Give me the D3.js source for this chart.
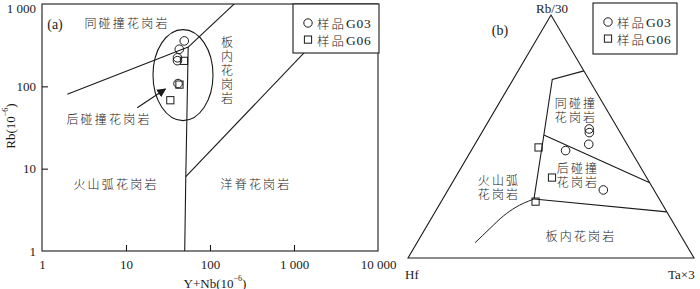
<!DOCTYPE html>
<html><head><meta charset="utf-8">
<script src="https://cdn.jsdelivr.net/npm/d3@7"></script>
<style>
html,body{margin:0;padding:0;background:#fff;}
svg text{font-family:"Liberation Serif","Times New Roman",serif;fill:#1a1a1a;}
svg text.cjk, svg tspan.cjk{font-family:"Noto Sans CJK SC",sans-serif;font-weight:300;}
</style>
</head><body>
<svg id="chart" width="700" height="289"></svg>
<script>
// ---------- Panel (a) data: Rb vs Y+Nb (log-log) ----------
const xTicks = [1, 10, 100, 1000, 10000];
const xTickLabels = ["1", "10", "100", "1 000", "10 000"];
const yTicks = [1, 10, 100, 1000];
const yTickLabels = ["1", "10", "100", "1 000"];
const g03YNb = [49.4, 43.1, 41.0, 41.0, 41.6];
const g03Rb = [356, 282, 222, 205, 108];
const g06YNb = [49.0, 43.3, 33.7];
const g06Rb = [204, 105, 67.8];
// field boundaries [Y+Nb, Rb]
const lineSynVag = [[2, 80], [55, 300]];
const lineSynWpg = [[55, 300], [400, 2000]];
const lineVagWpg = [[55, 300], [51.5, 8], [50, 1]];
const lineWpgOrg = [[51.5, 8], [2000, 400]];
const ellipseCenter = [47.7, 137];
const arrowA = [[13.6, 55], [29.5, 93]];

// ---------- Panel (b) data: Hf - Rb/30 - Ta×3 ternary, [Hf, Rb/30, Ta×3] % ----------
const g03Tern = [[10.1, 53.1, 36.8], [10.8, 51.6, 37.6], [13.4, 46.8, 39.8], [22.8, 44.2, 33.0], [17.7, 28.0, 54.3]];
const g06Tern = [[31.6, 45.5, 22.9], [33.1, 33.1, 33.8], [43.8, 23.2, 33.0]];
const triVerts = [[100, 0, 0], [0, 100, 0], [0, 0, 100]];
const bUpper = [[0, 77.0, 23.0], [12.8, 73.5, 13.7], [27.2, 50.6, 22.2], [43.8, 24.3, 31.9]];
const bSynPost = [[27.2, 50.6, 22.2], [0, 31.0, 69.0]];
const bWpg = [[43.8, 24.3, 31.9], [0, 19.0, 81.0]];
const bVag = [[43.8, 24.3, 31.9], [48.4, 22.5, 29.1], [52.2, 20.7, 27.1], [58.0, 17.3, 24.7], [65.2, 12.2, 22.6], [73.4, 6.3, 20.3]];

const svg = d3.select("#chart");
const ink = "#1a1a1a";
const serif = "'Liberation Serif','Times New Roman',serif";

// ================= Panel (a) =================
const x = d3.scaleLog().domain([1, 10000]).range([42, 378]);
const y = d3.scaleLog().domain([1, 1000]).range([251, 4]);
const ga = svg.append("g");
const defs = svg.append("defs");
defs.append("clipPath").attr("id", "clipA")
  .append("rect").attr("x", 42).attr("y", 4).attr("width", 336).attr("height", 247);
defs.append("marker").attr("id", "arr").attr("viewBox", "0 0 10 10")
  .attr("refX", 9).attr("refY", 5).attr("markerWidth", 9).attr("markerHeight", 9)
  .attr("markerUnits", "userSpaceOnUse").attr("orient", "auto")
  .append("path").attr("d", "M0,0 L10,5 L0,10 z").attr("fill", ink);

const line = d3.line().x(d => x(d[0])).y(d => y(d[1]));
const plotA = ga.append("g").attr("clip-path", "url(#clipA)");
[lineSynVag, lineSynWpg, lineVagWpg, lineWpgOrg].forEach(l => {
  plotA.append("path").attr("d", line(l)).attr("fill", "none").attr("stroke", ink).attr("stroke-width", 1.1);
});
plotA.append("ellipse").attr("cx", x(ellipseCenter[0])).attr("cy", y(ellipseCenter[1]))
  .attr("rx", 30).attr("ry", 45.5).attr("fill", "none").attr("stroke", ink).attr("stroke-width", 1.1);
plotA.append("path").attr("d", line(arrowA)).attr("stroke", ink).attr("stroke-width", 1.1)
  .attr("marker-end", "url(#arr)");

// axes
const xAxis = d3.axisBottom(x).tickValues(xTicks).tickSize(-6).tickFormat((d, i) => xTickLabels[i]).tickPadding(9);
const yAxis = d3.axisLeft(y).tickValues(yTicks).tickSize(-6).tickFormat((d, i) => yTickLabels[i]).tickPadding(6);
const gx = ga.append("g").attr("transform", "translate(0,251)").call(xAxis);
const gy = ga.append("g").attr("transform", "translate(42,0)").call(yAxis);
[gx, gy].forEach(g => {
  g.attr("font-family", serif);
  g.select(".domain").remove();
  g.selectAll("line").attr("stroke", ink).attr("stroke-width", 1.1);
  g.selectAll("text").attr("font-size", 13).attr("fill", ink).attr("font-family", serif);
});
gx.selectAll(".tick line").filter(d => d === 1 || d === 10000).remove();
gy.selectAll(".tick line").filter(d => d === 1 || d === 1000).remove();
gy.selectAll(".tick text").filter(d => d === 1000).attr("dy", "0.62em");
ga.append("rect").attr("x", 42).attr("y", 4).attr("width", 336).attr("height", 247)
  .attr("fill", "none").attr("stroke", ink).attr("stroke-width", 1.1);

// points
ga.selectAll(".c03").data(g03YNb).enter().append("circle")
  .attr("cx", d => x(d)).attr("cy", (d, i) => y(g03Rb[i])).attr("r", 4.3)
  .attr("fill", "none").attr("stroke", ink).attr("stroke-width", 1);
ga.selectAll(".s06").data(g06YNb).enter().append("rect")
  .attr("x", d => x(d) - 3.6).attr("y", (d, i) => y(g06Rb[i]) - 3.6).attr("width", 7.2).attr("height", 7.2)
  .attr("fill", "none").attr("stroke", ink).attr("stroke-width", 1);

function cjk(g, lines, px, py, opts = {}) {
  const t = g.append("text").attr("class", "cjk").attr("x", px).attr("y", py)
    .attr("text-anchor", opts.anchor || "middle").attr("dominant-baseline", "central")
    .attr("font-size", opts.size || 12).attr("letter-spacing", opts.ls == null ? 2.2 : opts.ls);
  [].concat(lines).forEach((s, i) => {
    t.append("tspan").attr("x", px).attr("dy", i === 0 ? 0 : 14).text(s);
  });
  return t;
}
ga.append("text").attr("x", 55).attr("y", 24).attr("text-anchor", "middle").attr("dominant-baseline", "central")
  .attr("font-size", 14).attr("font-family", serif).text("(a)");
cjk(ga, "同碰撞花岗岩", 127, 22);
cjk(ga, "后碰撞花岗岩", 109, 118);
cjk(ga, "火山弧花岗岩", 116, 183);
cjk(ga, "洋脊花岗岩", 256, 183);
ga.append("text").attr("class", "cjk").attr("x", 227).attr("y", 71)
  .attr("text-anchor", "middle").attr("font-size", 12).attr("letter-spacing", 2)
  .style("writing-mode", "vertical-rl").text("板内花岗岩");

// axis titles
const xt = ga.append("text").attr("x", 215).attr("y", 283).attr("text-anchor", "middle")
  .attr("dominant-baseline", "central").attr("font-size", 13).attr("font-family", serif);
xt.append("tspan").text("Y+Nb(10");
xt.append("tspan").attr("font-size", 8).attr("dy", -5).text("−6");
xt.append("tspan").attr("dy", 5).text(")");
const yt = ga.append("text").attr("transform", "translate(10,126) rotate(-90)").attr("text-anchor", "middle")
  .attr("dominant-baseline", "central").attr("font-size", 13).attr("font-family", serif);
yt.append("tspan").text("Rb(10");
yt.append("tspan").attr("font-size", 8).attr("dy", -5).text("−6");
yt.append("tspan").attr("dy", 5).text(")");

function legend(g, x0, y0, w, h) {
  g.append("rect").attr("x", x0).attr("y", y0).attr("width", w).attr("height", h)
    .attr("fill", "#fff").attr("stroke", ink).attr("stroke-width", 1.1);
  g.append("circle").attr("cx", x0 + 15).attr("cy", y0 + 19).attr("r", 4.2)
    .attr("fill", "none").attr("stroke", ink).attr("stroke-width", 1);
  g.append("rect").attr("x", x0 + 11.4).attr("y", y0 + 32).attr("width", 7.2).attr("height", 7.2)
    .attr("fill", "none").attr("stroke", ink).attr("stroke-width", 1);
  [["样品", "G03", 19], ["样品", "G06", 36]].forEach(([a, b, dy]) => {
    const t = g.append("text").attr("x", x0 + 24).attr("y", y0 + dy).attr("dominant-baseline", "central")
      .attr("font-size", 12.5).attr("font-family", serif);
    t.append("tspan").attr("class", "cjk").attr("letter-spacing", 2).text(a);
    t.append("tspan").attr("letter-spacing", 0.8).attr("font-size", 13.5).text(b);
  });
}
legend(ga, 293, 4, 86, 49);

// ================= Panel (b) =================
const gb = svg.append("g");
const tx = d3.scaleLinear().domain([0, 1]).range([408, 694]);
const ty = d3.scaleLinear().domain([0, 1]).range([258, 15]);
function tern(p) {
  const s = p[0] + p[1] + p[2];
  const c = p[1] / s, b = p[2] / s;
  return [tx(b + c / 2), ty(c)];
}
const tline = d3.line().x(d => tern(d)[0]).y(d => tern(d)[1]);
const tcurve = d3.line().x(d => tern(d)[0]).y(d => tern(d)[1]).curve(d3.curveNatural);
gb.append("path").attr("d", tline(triVerts) + "Z").attr("fill", "none").attr("stroke", ink).attr("stroke-width", 1.1);
[bUpper, bSynPost, bWpg].forEach(l => {
  gb.append("path").attr("d", tline(l)).attr("fill", "none").attr("stroke", ink).attr("stroke-width", 1.1);
});
gb.append("path").attr("d", tcurve(bVag)).attr("fill", "none").attr("stroke", ink).attr("stroke-width", 1);

gb.selectAll(".c03b").data(g03Tern).enter().append("circle")
  .attr("cx", d => tern(d)[0]).attr("cy", d => tern(d)[1]).attr("r", 4.3)
  .attr("fill", "none").attr("stroke", ink).attr("stroke-width", 1);
gb.selectAll(".s06b").data(g06Tern).enter().append("rect")
  .attr("x", d => tern(d)[0] - 3.6).attr("y", d => tern(d)[1] - 3.6).attr("width", 7.2).attr("height", 7.2)
  .attr("fill", "none").attr("stroke", ink).attr("stroke-width", 1);

cjk(gb, ["同碰撞", "花岗岩"], 576, 102);
cjk(gb, ["后碰撞", "花岗岩"], 578, 167);
cjk(gb, ["火山弧", "花岗岩"], 499, 179);
cjk(gb, "板内花岗岩", 581, 235);
gb.append("text").attr("x", 552).attr("y", 8).attr("text-anchor", "middle").attr("dominant-baseline", "central")
  .attr("font-size", 13).attr("font-family", serif).text("Rb/30");
gb.append("text").attr("x", 500).attr("y", 30).attr("text-anchor", "middle").attr("dominant-baseline", "central")
  .attr("font-size", 14).attr("font-family", serif).text("(b)");
gb.append("text").attr("x", 405).attr("y", 274).attr("dominant-baseline", "central")
  .attr("font-size", 13).attr("font-family", serif).text("Hf");
gb.append("text").attr("x", 668).attr("y", 274).attr("dominant-baseline", "central")
  .attr("font-size", 13).attr("font-family", serif).text("Ta×3");
legend(gb, 593, 3, 84, 51);
</script>
</body></html>
